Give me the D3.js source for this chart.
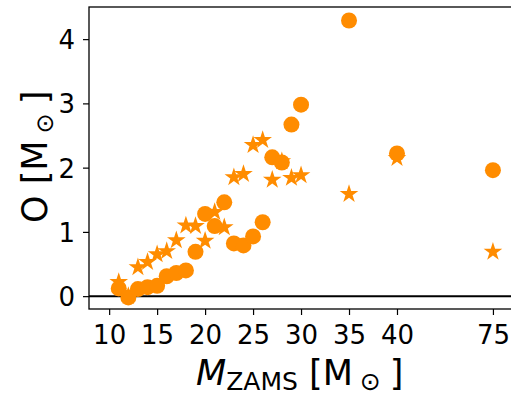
<!DOCTYPE html>
<html>
<head>
<meta charset="utf-8">
<script src="https://cdn.jsdelivr.net/npm/d3@7"></script>
<style>
  html, body { margin: 0; padding: 0; background: #fff; }
  svg { display: block; }
  svg text { font-family: "DejaVu Sans", sans-serif; }
</style>
</head>
<body>
<div id="main-container"></div>
<script>
// Data
const masses = [11, 12, 13, 14, 15, 16, 17, 18, 19, 20, 21, 22, 23, 24, 25, 26, 27, 28, 29, 30, 35, 40, 75];
const circleValues = [0.12, -0.02, 0.11, 0.14, 0.16, 0.31, 0.36, 0.40, 0.69, 1.28, 1.09, 1.46, 0.82, 0.79, 0.93, 1.15, 2.16, 2.08, 2.67, 2.98, 4.29, 2.22, 1.96];
const starValues = [0.22, 0.00, 0.45, 0.53, 0.65, 0.70, 0.87, 1.10, 1.09, 0.86, 1.31, 1.07, 1.85, 1.90, 2.35, 2.43, 1.81, 2.10, 1.84, 1.88, 1.59, 2.15, 0.69];
const xTickLabels = [10, 15, 20, 25, 30, 35, 40, 75];
const yTicks = [0, 1, 2, 3, 4];

const WIDTH = 511;
const HEIGHT = 394;
const PLOT = { left: 89, top: 7, right: 515, bottom: 309 };
const COLOR = '#ff8c00';
const FONT = '"DejaVu Sans", sans-serif';

// 75 is drawn where 50 would be (compressed axis)
const xPos = m => (m === 75 ? 50 : m);

const x = d3.scaleLinear().domain([7.9, 52.3]).range([PLOT.left, PLOT.right]);
const y = d3.scaleLinear().domain([-0.2, 4.5]).range([PLOT.bottom, PLOT.top]);

const svg = d3.select('#main-container').append('svg')
    .attr('width', WIDTH)
    .attr('height', HEIGHT);

// zero line
svg.append('line')
    .attr('x1', PLOT.left).attr('x2', WIDTH)
    .attr('y1', y(0)).attr('y2', y(0))
    .attr('stroke', '#000')
    .attr('stroke-width', 2);

// star path (5 points), outer radius r
function starPath(r) {
    const inner = r * 0.381966;
    const pts = [];
    for (let i = 0; i < 10; i++) {
        const a = -Math.PI / 2 + i * Math.PI / 5;
        const rr = i % 2 === 0 ? r : inner;
        pts.push([rr * Math.cos(a), rr * Math.sin(a)]);
    }
    return 'M' + pts.map(p => p.join(',')).join('L') + 'Z';
}

const marks = svg.append('g');

marks.selectAll('path.star')
    .data(masses.map((m, i) => [m, starValues[i]]))
    .enter()
    .append('path')
    .attr('class', 'star')
    .attr('d', starPath(9.8))
    .attr('transform', d => `translate(${x(xPos(d[0]))},${y(d[1])})`)
    .attr('fill', COLOR);

marks.selectAll('circle')
    .data(masses.map((m, i) => [m, circleValues[i]]))
    .enter()
    .append('circle')
    .attr('cx', d => x(xPos(d[0])))
    .attr('cy', d => y(d[1]))
    .attr('r', 8)
    .attr('fill', COLOR);

// axes
const xAxis = d3.axisBottom(x)
    .tickValues(xTickLabels.map(xPos))
    .tickFormat(v => (v === 50 ? '75' : String(v)))
    .tickSize(6)
    .tickPadding(8);

const gx = svg.append('g')
    .attr('transform', `translate(0,${PLOT.bottom})`)
    .call(xAxis)
    .attr('font-family', FONT)
    .attr('font-size', 26);
gx.select('.domain').remove();
gx.selectAll('line').attr('stroke', '#000').attr('stroke-width', 1.2);
gx.selectAll('text')
    .attr('fill', '#000')
    .attr('dy', null)
    .attr('y', 35);

const yAxis = d3.axisLeft(y)
    .tickValues(yTicks)
    .tickFormat(d3.format('d'))
    .tickSize(6)
    .tickPadding(8);

const gy = svg.append('g')
    .attr('transform', `translate(${PLOT.left},0)`)
    .call(yAxis)
    .attr('font-family', FONT)
    .attr('font-size', 26);
gy.select('.domain').remove();
gy.selectAll('line').attr('stroke', '#000').attr('stroke-width', 1.2);
gy.selectAll('text')
    .attr('fill', '#000')
    .attr('dy', null)
    .attr('y', 9.5)
    .attr('x', -14);

// spines (right side runs past the edge)
svg.append('rect')
    .attr('x', PLOT.left).attr('y', PLOT.top)
    .attr('width', PLOT.right - PLOT.left + 5)
    .attr('height', PLOT.bottom - PLOT.top)
    .attr('fill', 'none')
    .attr('stroke', '#000')
    .attr('stroke-width', 1.3);

// x label
const xl = svg.append('text')
    .attr('x', 196)
    .attr('y', 385)
    .attr('fill', '#000')
    .attr('font-family', FONT)
    .attr('font-size', 35);
xl.append('tspan').attr('font-style', 'italic').text('M');
xl.append('tspan').attr('font-size', 25).attr('dy', 5).text('ZAMS');
xl.append('tspan').attr('dy', -5).text('\u00a0[M');
xl.append('tspan').attr('font-size', 25).attr('dx', 7).attr('dy', 5).text('\u2299');
xl.append('tspan').attr('dx', 9).attr('dy', -5).text(']');

// y label
const yl = svg.append('text')
    .attr('transform', 'translate(47,223) rotate(-90)')
    .attr('fill', '#000')
    .attr('font-family', FONT)
    .attr('font-size', 35);
yl.append('tspan').text('O [M');
yl.append('tspan').attr('font-size', 24).attr('dx', 7).attr('dy', 6).text('\u2299');
yl.append('tspan').attr('dx', 9).attr('dy', -6).text(']');
</script>
</body>
</html>
